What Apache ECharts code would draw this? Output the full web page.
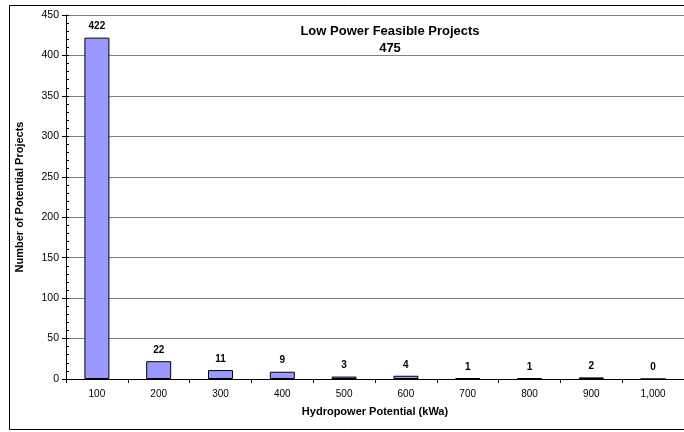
<!DOCTYPE html>
<html>
<head>
<meta charset="utf-8">
<script src="https://cdn.jsdelivr.net/npm/echarts@6/dist/echarts.min.js"></script>
<style>
html,body{margin:0;padding:0;background:#fff;overflow:hidden;}
#c{width:684px;height:432px;}
</style>
</head>
<body>
<div id="c"></div>
<script>
var categories = ['100','200','300','400','500','600','700','800','900','1,000'];
var projects = [422,22,11,9,3,4,1,1,2,0];
var titleLines = ['Low Power Feasible Projects','475'];

var chart = echarts.init(document.getElementById('c'), null, {renderer:'canvas'});
var F = 'Liberation Sans, Arial, sans-serif';
chart.setOption({
  animation:false,
  backgroundColor:'#fff',
  title:{
    text: titleLines.join('\n'),
    left: 385, top: 18, textAlign:'center',
    textStyle:{fontFamily:F, fontSize:13, fontWeight:'bold', color:'#000', lineHeight:17}
  },
  graphic:[{
    type:'rect', silent:true, z:-1,
    shape:{x:9.5, y:5.5, width:900, height:424},
    style:{fill:null, stroke:'#000', lineWidth:1}
  }],
  grid:{left:66, top:15, width:623, height:364, containLabel:false},
  xAxis:{
    type:'category', data:categories,
    name:'Hydropower Potential (kWa)', nameLocation:'middle', nameGap:27,
    nameTextStyle:{fontFamily:F, fontSize:11, fontWeight:'bold', color:'#000'},
    axisLine:{lineStyle:{color:'#000', width:1}},
    axisTick:{show:true, alignWithLabel:false, length:4, lineStyle:{color:'#000'}},
    axisLabel:{fontFamily:F, fontSize:10, color:'#000', margin:10},
    splitLine:{show:false}
  },
  yAxis:[{
    type:'value', min:0, max:450, interval:50,
    name:'Number of Potential Projects', nameLocation:'middle', nameGap:41,
    nameTextStyle:{fontFamily:F, fontSize:11, fontWeight:'bold', color:'#000'},
    axisLine:{show:true, lineStyle:{color:'#000', width:1}},
    axisTick:{show:true, length:4, lineStyle:{color:'#000'}},
    axisLabel:{fontFamily:F, fontSize:10.5, color:'#000', margin:7},
    splitLine:{show:true, lineStyle:{color:'#808080', width:1}}
  },{
    type:'value', min:0, max:450, interval:10, position:'left',
    axisLine:{show:false},
    axisTick:{show:true, inside:true, length:3, lineStyle:{color:'#000'}},
    axisLabel:{show:false},
    splitLine:{show:false}
  }],
  series:[{
    type:'bar', data:projects, barWidth:25, yAxisIndex:0,
    itemStyle:{color:'#9999FF', borderColor:'#000', borderWidth:1},
    label:{show:true, position:'top', distance:6, fontFamily:F, fontSize:10, fontWeight:'bold', color:'#000'}
  }]
});
</script>
</body>
</html>
